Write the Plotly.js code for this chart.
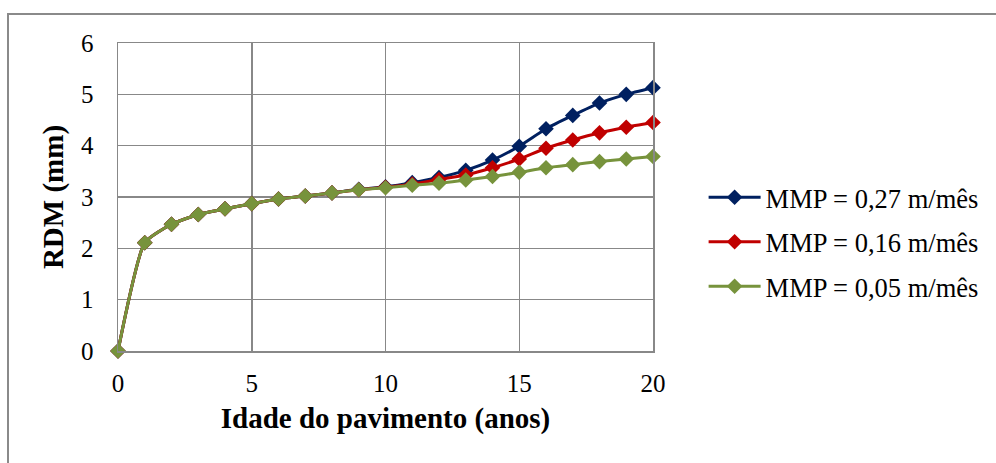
<!DOCTYPE html>
<html>
<head>
<meta charset="utf-8">
<script src="https://cdn.plot.ly/plotly-3.0.1.min.js"></script>
<style>
  html, body { margin: 0; padding: 0; background: #fff; }
  #wrap { position: relative; width: 996px; height: 463px; overflow: hidden; }
  #chart { width: 996px; height: 463px; }
  #frame { position: absolute; left: 7px; top: 13px; width: 1100px; height: 600px;
           border: 2px solid #8a8a8a; box-sizing: border-box; pointer-events: none; }
</style>
</head>
<body>
<div id="wrap">
  <div id="chart"></div>
  <div id="frame"></div>
</div>
<script>
// Data
const years = [0,1,2,3,4,5,6,7,8,9,10,11,12,13,14,15,16,17,18,19,20];
const mmp027 = [0,2.11,2.47,2.66,2.77,2.87,2.96,3.02,3.08,3.15,3.20,3.28,3.38,3.52,3.72,3.99,4.33,4.59,4.83,5.00,5.13];
const mmp016 = [0,2.11,2.47,2.66,2.77,2.87,2.96,3.02,3.08,3.14,3.19,3.25,3.34,3.43,3.57,3.74,3.95,4.11,4.25,4.36,4.45];
const mmp005 = [0,2.11,2.47,2.66,2.77,2.87,2.96,3.02,3.08,3.14,3.18,3.23,3.27,3.33,3.40,3.48,3.57,3.63,3.69,3.74,3.79];
const seriesNames = ["MMP = 0,27 m/mês", "MMP = 0,16 m/mês", "MMP = 0,05 m/mês"];
const xTitle = "Idade do pavimento (anos)";
const yTitle = "RDM (mm)";

const colors = ["#002060", "#C00000", "#77933C"];
const serif = "Liberation Serif, Times New Roman, serif";

function mk(y, i) {
  return {
    x: years, y: y, name: seriesNames[i], type: "scatter", mode: "lines+markers",
    legendgroup: "g" + i,
    line: { color: colors[i], width: 3, shape: "spline", smoothing: 0.5 },
    marker: { symbol: "diamond", size: 12, color: colors[i] },
    cliponaxis: false
  };
}
const data = [mk(mmp027, 0), mk(mmp016, 1), mk(mmp005, 2)];

const gridCol = "#888888";
const layout = {
  width: 996, height: 463,
  margin: { l: 118, r: 340, t: 43, b: 112 },
  paper_bgcolor: "#ffffff", plot_bgcolor: "#ffffff",
  font: { family: serif, size: 25, color: "#000" },
  showlegend: true,
  legend: {
    x: 1.0946, xanchor: "left", y: 0.576, yanchor: "top",
    font: { family: serif, size: 26.5, color: "#000" },
    itemwidth: 52,
    traceorder: "grouped", tracegroupgap: 7,
    bgcolor: "rgba(0,0,0,0)"
  },
  xaxis: {
    range: [0, 20], dtick: 5, tick0: 0, ticks: "", ticklabelstandoff: 9,
    showgrid: true, gridcolor: gridCol, gridwidth: 1.5,
    showline: true, linecolor: gridCol, linewidth: 1.5, mirror: true,
    zeroline: false, fixedrange: true,
    tickfont: { family: serif, size: 25, color: "#000" },
    title: { text: xTitle, standoff: 12, font: { family: serif, size: 29, color: "#000", weight: "bold" } }
  },
  yaxis: {
    range: [0, 6], dtick: 1, tick0: 0, ticks: "", ticklabelstandoff: 18,
    showgrid: true, gridcolor: gridCol, gridwidth: 1.5,
    showline: true, linecolor: gridCol, linewidth: 1.5, mirror: true,
    zeroline: false, fixedrange: true,
    tickfont: { family: serif, size: 25, color: "#000" },
    title: { text: yTitle, standoff: 9, font: { family: serif, size: 29, color: "#000", weight: "bold" } }
  }
};
Plotly.newPlot("chart", data, layout, { displayModeBar: false, staticPlot: true });
</script>
</body>
</html>
